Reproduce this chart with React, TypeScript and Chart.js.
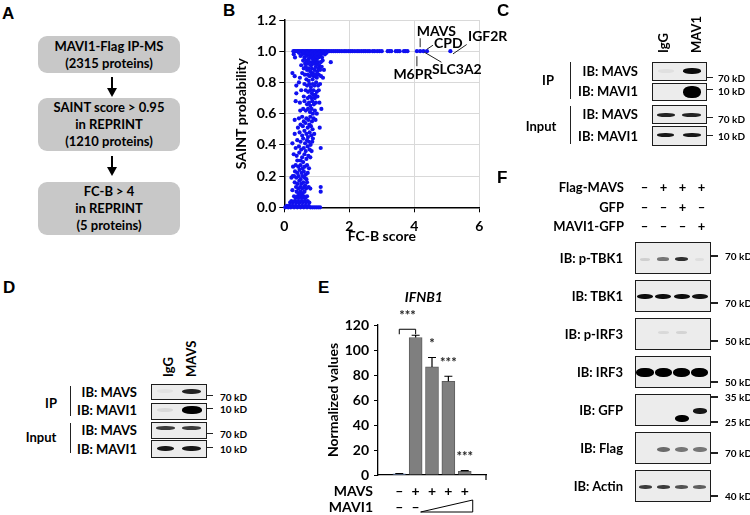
import React, { useEffect, useRef } from 'react';
import { Chart, registerables } from 'chart.js';

Chart.register(...registerables);

const FONT = 'Lato, "Open Sans", "DejaVu Sans", sans-serif';
const LETTER_FONT = '"Liberation Sans", Arial, sans-serif';

// ---------------- Panel A ----------------
const aSteps = ['MAVI1-Flag IP-MS\n(2315 proteins)', 'SAINT score > 0.95\nin REPRINT\n(1210 proteins)', 'FC-B > 4\nin REPRINT\n(5 proteins)'];

// ---------------- Panel B ----------------
const bXTicks = [0, 2, 4, 6];
const bYTicks = [0, 0.2, 0.4, 0.6, 0.8, 1.0, 1.2];
// proteins with SAINT probability = 1.0 (FC-B scores)
const bTopRowX = [0.28, 0.32, 0.36, 0.4, 0.44, 0.48, 0.52, 0.56, 0.6, 0.64, 0.68, 0.72, 0.76, 0.8, 0.84, 0.88, 0.92, 0.96, 1.0, 1.04, 1.08, 1.12, 1.16, 1.2, 1.25, 1.3, 1.35, 1.4, 1.46, 1.52, 1.58, 1.64, 1.7, 1.77, 1.84, 1.9, 1.97, 2.04, 2.1, 2.17, 2.24, 2.3, 2.37, 2.44, 2.5, 2.57, 2.63, 2.72, 2.78, 2.86, 2.93, 3.0, 3.18, 3.24, 3.29, 3.43, 3.49, 3.55, 3.68, 3.73, 3.79, 4.08, 4.18, 4.28, 4.39, 5.11];
const bUpperBand: number[][] = [
  [0.29, 0.98], [0.33, 0.96], [0.45, 0.99], [0.5, 0.97], [0.55, 0.98], [0.6, 0.99], [0.62, 0.96], [0.66, 0.98], [0.7, 0.97], [0.72, 0.99], [0.75, 0.95], [0.78, 0.98], [0.8, 0.96], [0.83, 0.99], [0.85, 0.97], [0.88, 0.95], [0.9, 0.98], [0.92, 0.96], [0.95, 0.99], [0.97, 0.97], [1.0, 0.95], [1.02, 0.98], [1.05, 0.96], [1.08, 0.99], [1.1, 0.97], [1.13, 0.98], [1.16, 0.96], [1.2, 0.99], [1.25, 0.98], [1.3, 0.99], [1.43, 0.93],
  [0.58, 0.94], [0.64, 0.92], [0.68, 0.94], [0.73, 0.92], [0.77, 0.93], [0.82, 0.91], [0.86, 0.93], [0.9, 0.92], [0.94, 0.94], [0.98, 0.92], [1.03, 0.93], [1.07, 0.91], [1.12, 0.93], [1.18, 0.94],
  [0.52, 0.91], [0.6, 0.89], [0.66, 0.9], [0.7, 0.88], [0.75, 0.89], [0.8, 0.87], [0.85, 0.89], [0.88, 0.86], [0.93, 0.88], [0.97, 0.9], [1.01, 0.87], [1.05, 0.89], [1.1, 0.88], [1.15, 0.9], [1.22, 0.88],
  [0.25, 0.86], [0.32, 0.84], [0.55, 0.86], [0.63, 0.85], [0.72, 0.85], [0.78, 0.84], [0.83, 0.85], [0.91, 0.84], [0.96, 0.85], [1.0, 0.83], [1.06, 0.85], [1.13, 0.84], [0.48, 0.83], [0.68, 0.82], [0.75, 0.81], [0.87, 0.82], [1.19, 0.83],
];
const bMiddleBand: number[][] = [
  [0.37, 0.78], [0.45, 0.8], [0.62, 0.79], [0.7, 0.78], [0.77, 0.79], [0.82, 0.77], [0.88, 0.79], [0.93, 0.78], [0.98, 0.8], [1.04, 0.78], [1.1, 0.79], [0.37, 0.73], [0.52, 0.75], [0.66, 0.75], [0.73, 0.74], [0.8, 0.75], [0.85, 0.73], [0.9, 0.75], [0.95, 0.72], [1.0, 0.74], [1.06, 0.75], [0.6, 0.71], [0.72, 0.7], [0.78, 0.71], [0.84, 0.7], [0.89, 0.72], [0.94, 0.7], [1.02, 0.71],
  [0.35, 0.68], [0.48, 0.67], [0.62, 0.68], [0.7, 0.66], [0.76, 0.67], [0.8, 0.65], [0.86, 0.68], [0.91, 0.66], [0.97, 0.67], [1.08, 0.67], [0.49, 0.62], [0.58, 0.63], [0.66, 0.62], [0.73, 0.63], [0.79, 0.61], [0.84, 0.63], [0.88, 0.6], [0.94, 0.62], [1.14, 0.63], [1.0, 0.6],
  [0.32, 0.56], [0.45, 0.57], [0.55, 0.58], [0.6, 0.55], [0.68, 0.57], [0.74, 0.56], [0.8, 0.58], [0.85, 0.55], [0.9, 0.57], [0.96, 0.56], [0.5, 0.53], [0.57, 0.52], [0.65, 0.54], [0.72, 0.51], [0.77, 0.53], [0.82, 0.52], [0.87, 0.5], [1.09, 0.51], [0.42, 0.51],
  [0.32, 0.47], [0.47, 0.48], [0.55, 0.46], [0.62, 0.49], [0.68, 0.47], [0.73, 0.45], [0.78, 0.48], [0.83, 0.46], [0.88, 0.44], [0.92, 0.47], [0.25, 0.41], [0.4, 0.43], [0.5, 0.42], [0.58, 0.44], [0.64, 0.41], [0.7, 0.43], [0.76, 0.42], [0.81, 0.4], [0.86, 0.42],
  [0.35, 0.38], [0.45, 0.39], [0.52, 0.37], [0.6, 0.38], [0.66, 0.36], [0.72, 0.39], [0.78, 0.37], [0.84, 0.36], [1.12, 0.38], [0.29, 0.34], [0.38, 0.33], [0.46, 0.35], [0.55, 0.32], [0.62, 0.34], [0.68, 0.31], [0.74, 0.33], [0.8, 0.32], [0.4, 0.3], [0.5, 0.3], [0.58, 0.29],
];
const bLowerBand: number[][] = [
  [0.27, 0.26], [0.35, 0.27], [0.43, 0.26], [0.5, 0.27], [0.56, 0.25], [0.63, 0.26], [0.7, 0.27], [0.76, 0.25], [0.33, 0.23], [0.4, 0.22], [0.47, 0.24], [0.53, 0.22], [0.6, 0.23], [0.66, 0.21], [0.72, 0.22],
  [0.22, 0.19], [0.26, 0.2], [0.3, 0.2], [0.37, 0.19], [0.44, 0.2], [0.5, 0.18], [0.56, 0.2], [0.62, 0.19], [0.68, 0.18], [0.32, 0.16], [0.4, 0.15], [0.46, 0.17], [0.52, 0.15], [0.58, 0.16], [0.64, 0.14], [0.7, 0.16],
  [0.36, 0.13], [0.43, 0.12], [0.49, 0.13], [0.55, 0.12], [0.61, 0.13], [0.67, 0.12], [1.12, 0.13], [1.12, 0.1], [0.25, 0.11], [0.75, 0.13], [0.8, 0.12],
];
const bBaseCluster: number[][] = [
  [0.38, 0.1], [0.44, 0.09], [0.5, 0.1], [0.56, 0.09], [0.62, 0.1], [0.48, 0.08],
  [0.3, 0.07], [0.35, 0.06], [0.4, 0.07], [0.45, 0.06], [0.5, 0.07], [0.55, 0.06], [0.6, 0.07], [0.65, 0.06], [0.7, 0.07],
  [0.18, 0.03], [0.22, 0.04], [0.27, 0.03], [0.32, 0.04], [0.37, 0.03], [0.42, 0.04], [0.47, 0.03], [0.52, 0.04], [0.57, 0.03], [0.62, 0.04], [0.67, 0.03], [0.72, 0.04], [0.77, 0.03],
  [0.03, 0], [0.08, 0.01], [0.12, 0], [0.16, 0.01], [0.2, 0], [0.25, 0.01], [0.3, 0], [0.35, 0.01], [0.4, 0], [0.45, 0.01], [0.5, 0], [0.55, 0.01], [0.6, 0], [0.65, 0.01], [0.7, 0], [0.75, 0.01], [0.8, 0], [0.86, 0], [0.92, 0], [0.98, 0], [1.04, 0], [1.1, 0],
];
const bHitNames = ['M6PR', 'MAVS', 'SLC3A2', 'CPD', 'IGF2R'];
const bHitFC = [4.08, 4.18, 4.28, 4.39, 5.11];

// ---------------- Panel E ----------------
const eBars = [1, 2, 3, 4, 5];
const eValues = [1.0, 110, 86.5, 75, 3];
const eErrors = [0.2, 1.8, 7.5, 4, 0.5];
const eYTicks = [0, 20, 40, 60, 80, 100, 120];
const eMAVS = ['–', '+', '+', '+', '+'];
const eMAVI1 = ['–', '–', '', '', ''];
const eSig = ['', '***', '*', '***', '***'];

// ---------------- Blots ----------------
type Band = number[]; // lane, darkness, y fraction, thickness, width fraction
const cRowLabels = ['IB: MAVS', 'IB: MAVI1', 'IB: MAVS', 'IB: MAVI1'];
const cMarkers = ['70 kD', '10 kD', '70 kD', '10 kD'];
const cBands: Band[][] = [
  [[0, 0.05, 0.5, 4, 0.6], [1, 0.95, 0.5, 6, 0.7]],
  [[1, 1, 0.55, 12, 0.68]],
  [[0, 0.85, 0.58, 4, 0.68], [1, 0.85, 0.58, 4, 0.72]],
  [[0, 0.9, 0.5, 4, 0.66], [1, 0.9, 0.5, 4, 0.7]],
];
const dRowLabels = ['IB: MAVS', 'IB: MAVI1', 'IB: MAVS', 'IB: MAVI1'];
const dMarkers = ['70 kD', '10 kD', '70 kD', '10 kD'];
const dBands: Band[][] = [
  [[0, 0.04, 0.5, 4, 0.6], [1, 0.85, 0.5, 5, 0.72]],
  [[0, 0.08, 0.45, 4, 0.6], [1, 1, 0.45, 8, 0.75]],
  [[0, 0.75, 0.4, 4, 0.72], [1, 0.75, 0.4, 4, 0.72]],
  [[0, 0.9, 0.5, 5, 0.66], [1, 0.9, 0.5, 5, 0.7]],
];
const fFlagMAVS = ['–', '+', '+', '+'];
const fGFP = ['–', '–', '+', '–'];
const fMAVI1GFP = ['–', '–', '–', '+'];
const fRowLabels = ['IB: p-TBK1', 'IB: TBK1', 'IB: p-IRF3', 'IB: IRF3', 'IB: GFP', 'IB: Flag', 'IB: Actin'];
const fMarkers = ['70 kD', '70 kD', '50 kD', '50 kD', '35 kD', '25 kD', '70 kD', '40 kD'];
const fBands: Band[][] = [
  [[0, 0.12, 0.56, 3, 0.55], [1, 0.5, 0.56, 3.5, 0.65], [2, 0.8, 0.56, 4, 0.7], [3, 0.06, 0.56, 3, 0.5]],
  [[0, 0.95, 0.52, 5, 0.88], [1, 0.95, 0.52, 5, 0.88], [2, 0.95, 0.52, 5, 0.88], [3, 0.92, 0.52, 5, 0.85]],
  [[1, 0.08, 0.48, 3, 0.6], [2, 0.1, 0.48, 3, 0.6]],
  [[0, 1, 0.52, 9, 0.95], [1, 1, 0.52, 9, 0.95], [2, 1, 0.52, 9, 0.95], [3, 1, 0.52, 9, 0.92]],
  [[2, 1, 0.8, 7, 0.78], [3, 0.9, 0.54, 6, 0.78]],
  [[1, 0.55, 0.58, 5, 0.75], [2, 0.5, 0.58, 5, 0.75], [3, 0.5, 0.58, 5, 0.75]],
  [[0, 0.75, 0.56, 3.5, 0.72], [1, 0.75, 0.56, 3.5, 0.72], [2, 0.65, 0.56, 3.5, 0.72], [3, 0.6, 0.56, 3.5, 0.72]],
];

// ---------------- helpers ----------------
function Txt(p: { x: number; y: number; t: string; a?: string; s?: number; w?: number; it?: boolean; f?: string }) {
  const tx = p.a === 'c' ? '-50%' : p.a === 'r' ? '-100%' : '0';
  return (
    <div style={{ position: 'absolute', left: p.x, top: p.y, transform: `translate(${tx},-50%)`, fontFamily: p.f ?? FONT, fontSize: p.s ?? 13, fontWeight: p.w ?? 700, fontStyle: p.it ? 'italic' : 'normal', lineHeight: 1, whiteSpace: 'nowrap', color: '#000' }}>{p.t}</div>
  );
}
function VTxt({ cx, bottom, t, s = 13 }: { cx: number; bottom: number; t: string; s?: number }) {
  return (
    <div style={{ position: 'absolute', left: cx - s / 2, top: bottom, transform: 'rotate(-90deg)', transformOrigin: '0 0', fontFamily: FONT, fontSize: s, fontWeight: 700, lineHeight: `${s}px`, whiteSpace: 'nowrap', color: '#000' }}>{t}</div>
  );
}
function Line({ x, y, w, h, c = '#222' }: { x: number; y: number; w: number; h: number; c?: string }) {
  return <div style={{ position: 'absolute', left: x, top: y, width: w, height: h, background: c }} />;
}
function Blot({ x, y, w, h, lanes, bands }: { x: number; y: number; w: number; h: number; lanes: number; bands: Band[] }) {
  const lw = (w - 3) / lanes;
  return (
    <div style={{ position: 'absolute', left: x, top: y, width: w, height: h, boxSizing: 'border-box', border: '1.5px solid #1c1c1c', background: '#ececec', overflow: 'hidden' }}>
      {bands.map(([lane, a, yf, th, wf], i) => (
        <div key={i} style={{ position: 'absolute', left: lw * lane + (lw * (1 - wf)) / 2, top: (h - 3) * yf - th / 2, width: lw * wf, height: th, borderRadius: '45%', background: `rgba(0,0,0,${a})`, filter: 'blur(0.7px)' }} />
      ))}
    </div>
  );
}

// ---------------- Panel B chart ----------------
const bHitLayout = [
  // line start dx,dy, line end dx,dy, text dx,dy, align
  [0, 5, 0, 15, -4, 23, 'center'],
  [0, -4, 0, -13, -3.5, -20, 'left'],
  [1, 1, 18, 11, 8.5, 18, 'left'],
  [0, -2, 6, -6, 7, -7.5, 'left'],
  [2.6, 2.7, 16.3, -6.7, 17.6, -15, 'left'],
];
const bAnnotPlugin = {
  id: 'bAnnot',
  afterDatasetsDraw(chart: any) {
    const { ctx, scales } = chart;
    const py = scales.y.getPixelForValue(1);
    ctx.save();
    ctx.strokeStyle = '#222';
    ctx.lineWidth = 1;
    ctx.fillStyle = '#000';
    ctx.font = `bold 14px ${FONT}`;
    ctx.textBaseline = 'middle';
    bHitNames.forEach((name, i) => {
      const px = scales.x.getPixelForValue(bHitFC[i]);
      const L: any = bHitLayout[i];
      ctx.beginPath();
      ctx.moveTo(px + L[0], py + L[1]);
      ctx.lineTo(px + L[2], py + L[3]);
      ctx.stroke();
      ctx.textAlign = L[6];
      ctx.fillText(name, px + L[4], py + L[5]);
    });
    ctx.restore();
  },
};

function ChartB() {
  const ref = useRef<HTMLCanvasElement>(null);
  useEffect(() => {
    const pts = [
      ...bTopRowX.map((x) => ({ x, y: 1 })),
      ...[...bUpperBand, ...bMiddleBand, ...bLowerBand, ...bBaseCluster].map(([x, y]) => ({ x, y })),
    ];
    const tickFont = { size: 14, weight: 'bold' as const, family: FONT };
    const chart = new Chart(ref.current!, {
      type: 'scatter',
      data: { datasets: [{ data: pts, backgroundColor: '#1010f0', borderWidth: 0, pointRadius: 2.1, pointHoverRadius: 2.1, clip: false } as any] },
      options: {
        animation: false,
        responsive: false,
        devicePixelRatio: 1,
        events: [],
        layout: { padding: { top: 20, right: 40.7, bottom: 0, left: 0 } },
        plugins: { legend: { display: false }, tooltip: { enabled: false } },
        scales: {
          x: {
            type: 'linear', min: 0, max: 6,
            afterBuildTicks: (s: any) => { s.ticks = bXTicks.map((v) => ({ value: v })); },
            afterFit: (s: any) => { s.height = 37.7; },
            grid: { color: '#d9d9d9', tickColor: '#000', tickLength: 5, lineWidth: 1 },
            border: { color: '#000', width: 1.5 },
            ticks: { padding: 6, color: '#000', font: tickFont, callback: (v: any) => String(v) },
            title: { display: true, text: 'FC-B score', color: '#000', font: tickFont, padding: { top: 0, bottom: 0 } },
          },
          y: {
            type: 'linear', min: 0, max: 1.2,
            afterBuildTicks: (s: any) => { s.ticks = bYTicks.map((v) => ({ value: v })); },
            afterFit: (s: any) => { s.width = 84.3; },
            grid: { color: '#d9d9d9', tickColor: '#000', tickLength: 5, lineWidth: 1 },
            border: { color: '#000', width: 1.5 },
            ticks: { padding: 3, color: '#000', font: tickFont, callback: (v: any) => Number(v).toFixed(1) },
            title: { display: true, text: 'SAINT probability', color: '#000', font: tickFont, padding: { top: 33, bottom: 0 } },
          },
        },
      } as any,
      plugins: [bAnnotPlugin],
    });
    return () => chart.destroy();
  }, []);
  return <canvas ref={ref} width={320} height={245} style={{ position: 'absolute', left: 200, top: 0 }} />;
}

// ---------------- Panel E chart ----------------
const ePlugin = {
  id: 'ePlugin',
  afterDatasetsDraw(chart: any) {
    const { ctx, scales, chartArea } = chart;
    const x = scales.x, y = scales.y;
    ctx.save();
    ctx.strokeStyle = '#000';
    ctx.fillStyle = '#000';
    ctx.lineWidth = 1.2;
    const caps: number[] = [];
    eValues.forEach((v, i) => {
      const px = x.getPixelForValue(eBars[i]);
      const top = y.getPixelForValue(v + eErrors[i]);
      caps.push(top);
      ctx.beginPath();
      ctx.moveTo(px, y.getPixelForValue(v));
      ctx.lineTo(px, top);
      ctx.moveTo(px - 4, top);
      ctx.lineTo(px + 4, top);
      ctx.stroke();
    });
    // right end tick of x axis
    ctx.beginPath();
    ctx.moveTo(chartArea.right, chartArea.bottom);
    ctx.lineTo(chartArea.right, chartArea.bottom + 5);
    ctx.stroke();
    // significance
    ctx.font = `bold 13px ${FONT}`;
    ctx.textAlign = 'center';
    ctx.textBaseline = 'alphabetic';
    ctx.fillStyle = '#222';
    eSig.forEach((s, i) => {
      if (!s || i === 1) return;
      const px = x.getPixelForValue(eBars[i]);
      ctx.fillText(s, px, caps[i] - 17 + 7.5);
    });
    // bracket between bar 1 and bar 2
    const p1 = x.getPixelForValue(eBars[0]);
    const p2 = x.getPixelForValue(eBars[1]);
    const by = caps[1] - 6;
    ctx.lineWidth = 1;
    ctx.strokeStyle = '#000';
    ctx.beginPath();
    ctx.moveTo(p1, by + 5);
    ctx.lineTo(p1, by);
    ctx.lineTo(p2, by);
    ctx.lineTo(p2, by + 5);
    ctx.stroke();
    ctx.fillText(eSig[1], (p1 + p2) / 2, by - 17 + 7.5);
    // title
    ctx.fillStyle = '#000';
    ctx.font = `italic bold 14px ${FONT}`;
    ctx.textBaseline = 'middle';
    ctx.fillText('IFNB1', x.getPixelForValue(2.5), 297 - 280);
    // rows
    ctx.font = `bold 14px ${FONT}`;
    const r1 = 491 - 280, r2 = 507 - 280;
    ctx.textAlign = 'right';
    ctx.fillText('MAVS', chartArea.left - 5, r1);
    ctx.fillText('MAVI1', chartArea.left - 5, r2);
    ctx.textAlign = 'center';
    eMAVS.forEach((s, i) => ctx.fillText(s, x.getPixelForValue(eBars[i]), r1));
    eMAVI1.forEach((s, i) => { if (s) ctx.fillText(s, x.getPixelForValue(eBars[i]), r2); });
    // wedge for increasing MAVI1
    const wx1 = x.getPixelForValue(eBars[1]) + 5;
    const wx2 = x.getPixelForValue(eBars[4]) + 8;
    ctx.beginPath();
    ctx.moveTo(wx1, r2 + 5);
    ctx.lineTo(wx2, r2 + 5);
    ctx.lineTo(wx2, r2 - 7);
    ctx.closePath();
    ctx.lineWidth = 1;
    ctx.stroke();
    ctx.restore();
  },
};

function ChartE() {
  const ref = useRef<HTMLCanvasElement>(null);
  useEffect(() => {
    const tickFont = { size: 14, weight: 'bold' as const, family: FONT };
    const chart = new Chart(ref.current!, {
      type: 'bar',
      data: {
        datasets: [{
          data: eBars.map((b, i) => ({ x: b, y: eValues[i] })),
          backgroundColor: ['#8eaadb', '#7f7f7f', '#7f7f7f', '#7f7f7f', '#7f7f7f'],
          borderColor: ['#7a96cc', '#5e5e5e', '#5e5e5e', '#5e5e5e', '#5e5e5e'],
          borderWidth: 1,
          barThickness: 13,
        } as any],
      },
      options: {
        animation: false,
        responsive: false,
        devicePixelRatio: 1,
        events: [],
        layout: { padding: { top: 45, right: 14, bottom: 0, left: 0 } },
        plugins: { legend: { display: false }, tooltip: { enabled: false } },
        scales: {
          x: {
            type: 'linear', min: -0.3, max: 6.3, offset: false,
            afterFit: (s: any) => { s.height = 40; },
            grid: { display: false },
            ticks: { display: false },
            border: { color: '#000', width: 1.3 },
          },
          y: {
            type: 'linear', min: 0, max: 120,
            afterBuildTicks: (s: any) => { s.ticks = eYTicks.map((v) => ({ value: v })); },
            afterFit: (s: any) => { s.width = 78; },
            grid: { drawOnChartArea: false, color: '#000', tickColor: '#000', tickLength: 4 },
            border: { color: '#000', width: 1.3 },
            ticks: { padding: 5, color: '#000', font: tickFont },
            title: { display: true, text: 'Normalized values', color: '#000', font: tickFont, padding: { top: 25, bottom: 0 } },
          },
        },
      } as any,
      plugins: [ePlugin],
    });
    return () => chart.destroy();
  }, []);
  return <canvas ref={ref} width={200} height={235} style={{ position: 'absolute', left: 300, top: 280 }} />;
}

// ---------------- App ----------------
export default function App() {
  const cTops = [62, 82.5, 105, 126];
  const cHeights = [18.5, 18.5, 18.5, 19.5];
  const cLabelY = [71, 91, 114, 136];
  const cTickY = [76.7, 89.3, 117.3, 135];
  const cMarkY = [78, 90.5, 118.5, 136];
  const dTops = [383.5, 402.5, 421.5, 440];
  const dHeights = [16, 17.5, 17.5, 17.5];
  const dLabelY = [391.5, 410, 429.5, 448.5];
  const dTickY = [395, 407.5, 432.5, 446.5];
  const dMarkY = [396.5, 408.5, 433.5, 448.5];
  const fTops = [242, 280, 318, 356, 394, 432, 470];
  const fMarkY = [256, 303, 341, 382, 397, 422, 453, 496];
  const fLaneX = [644.5, 663.5, 682.5, 701.5];
  const aBoxes = [[36, 37], [98, 53], [182, 53]];
  const letter = (t: string, x: number, y: number) => <Txt x={x} y={y} t={t} s={17} f={LETTER_FONT} />;

  return (
    <div style={{ position: 'absolute', left: 0, top: 0, width: 750, height: 515, background: '#fff', overflow: 'hidden' }}>
      {/* Panel A */}
      {letter('A', 2, 13)}
      {aSteps.map((s, i) => (
        <div key={i} style={{ position: 'absolute', left: 38, top: aBoxes[i][0], width: 142, height: aBoxes[i][1], background: '#c8c8c8', borderRadius: 9, display: 'flex', alignItems: 'center', justifyContent: 'center', textAlign: 'center', whiteSpace: 'pre-line', fontFamily: FONT, fontWeight: 700, fontSize: 13, lineHeight: '17px', color: '#000' }}>{s}</div>
      ))}
      {[[77, 88], [156, 167]].map(([t, b], i) => (
        <React.Fragment key={i}>
          <Line x={111} y={t} w={2} h={b - t + 1} c="#000" />
          <div style={{ position: 'absolute', left: 106.5, top: b, width: 0, height: 0, borderLeft: '5.5px solid transparent', borderRight: '5.5px solid transparent', borderTop: '9px solid #000' }} />
        </React.Fragment>
      ))}

      {/* Panel B */}
      {letter('B', 223, 10)}
      <ChartB />

      {/* Panel C */}
      {letter('C', 497, 10)}
      <VTxt cx={663} bottom={53} t="IgG" />
      <VTxt cx={696.7} bottom={53} t="MAV1" />
      {cRowLabels.map((t, i) => (
        <React.Fragment key={i}>
          <Blot x={651.5} y={cTops[i]} w={55.5} h={cHeights[i]} lanes={2} bands={cBands[i]} />
          <Txt x={638} y={cLabelY[i]} t={t} a="r" />
          <Line x={707} y={cTickY[i]} w={6} h={1.2} />
          <Txt x={718} y={cMarkY[i]} t={cMarkers[i]} s={10} />
        </React.Fragment>
      ))}
      <Line x={569.5} y={62} w={1.5} h={37} />
      <Line x={569.5} y={106} w={1.5} h={38} />
      <Txt x={548} y={80} t="IP" a="c" />
      <Txt x={541} y={126} t="Input" a="c" />

      {/* Panel D */}
      {letter('D', 3, 287)}
      <VTxt cx={168} bottom={377} t="IgG" />
      <VTxt cx={191.7} bottom={377} t="MAVS" />
      {dRowLabels.map((t, i) => (
        <React.Fragment key={i}>
          <Blot x={151} y={dTops[i]} w={56} h={dHeights[i]} lanes={2} bands={dBands[i]} />
          <Txt x={137} y={dLabelY[i]} t={t} a="r" />
          <Line x={207} y={dTickY[i]} w={6} h={1.2} />
          <Txt x={220} y={dMarkY[i]} t={dMarkers[i]} s={10} />
        </React.Fragment>
      ))}
      <Line x={69.5} y={386} w={1.5} h={30} />
      <Line x={69.5} y={423} w={1.5} h={30} />
      <Txt x={51} y={403} t="IP" a="c" />
      <Txt x={41} y={437} t="Input" a="c" />

      {/* Panel E */}
      {letter('E', 318, 287)}
      <ChartE />

      {/* Panel F */}
      {letter('F', 497, 177)}
      {[['Flag-MAVS', fFlagMAVS, 187], ['GFP', fGFP, 207], ['MAVI1-GFP', fMAVI1GFP, 226]].map(([lab, signs, y]: any, i) => (
        <React.Fragment key={i}>
          <Txt x={624} y={y} t={lab} a="r" />
          {signs.map((s: string, j: number) => <Txt key={j} x={fLaneX[j]} y={y} t={s} a="c" />)}
        </React.Fragment>
      ))}
      {fRowLabels.map((t, i) => (
        <React.Fragment key={i}>
          <Blot x={635} y={fTops[i]} w={76} h={32} lanes={4} bands={fBands[i]} />
          <Txt x={623} y={fTops[i] + 16} t={t} a="r" />
        </React.Fragment>
      ))}
      {fMarkers.map((m, i) => (
        <React.Fragment key={i}>
          <Line x={711} y={fMarkY[i] - 0.6} w={7} h={1.2} />
          <Txt x={725} y={fMarkY[i]} t={m} s={10} />
        </React.Fragment>
      ))}
    </div>
  );
}
